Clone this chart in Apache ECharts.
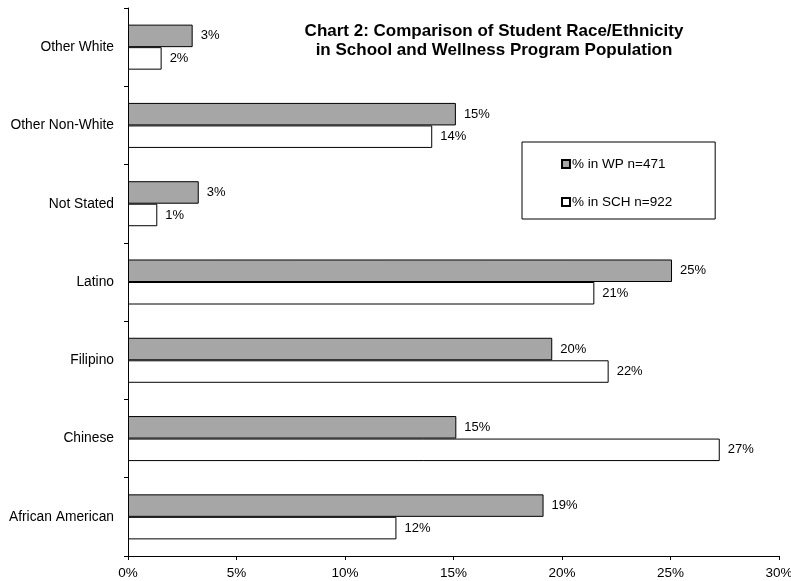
<!DOCTYPE html>
<html><head><meta charset="utf-8">
<script src="https://cdn.jsdelivr.net/npm/echarts@6/dist/echarts.min.js"></script>
<style>html,body{margin:0;padding:0;background:#fff}#c{width:791px;height:581px}</style>
</head><body><div id="c"></div>
<script>
const categories = ['African American','Chinese','Filipino','Latino','Not Stated','Other Non-White','Other White'];
const wpValues  = [19.15, 15.13, 19.55, 25.07, 3.26, 15.11, 2.98];
const schValues = [12.37, 27.27, 22.15, 21.49, 1.35, 14.02, 1.55];
const xTicks = [0,5,10,15,20,25,30];
const seriesNames = ['% in WP n=471', '% in SCH n=922'];

const font = '"Liberation Sans", Arial, sans-serif';
const fs = 13.8;
const chart = echarts.init(document.getElementById('c'), null, {renderer:'canvas'});
const lbl = {show:true, position:'right', distance:8, color:'#000', fontFamily:font, fontSize:13,
  formatter: p => Math.round(p.value) + '%'};
chart.setOption({
  animation:false,
  backgroundColor:'#fff',
  title:{
    text:'Chart 2: Comparison of Student Race/Ethnicity\nin School and Wellness Program Population',
    left:489, top:17, textAlign:'center',
    textStyle:{fontFamily:font, fontSize:17, fontWeight:'bold', color:'#000', lineHeight:19}
  },
  legend:{
    data:seriesNames, orient:'vertical', left:522, top:142,
    padding:[14,43,9,39], itemGap:22, itemWidth:8, itemHeight:8,
    borderColor:'#000', borderWidth:1, backgroundColor:'#fff',
    textStyle:{fontFamily:font, fontSize:13.5, color:'#000', padding:[0,0,0,-3], lineHeight:16},
    icon:'rect'
  },
  grid:{left:128, right:12, top:8, bottom:25, containLabel:false, outerBoundsMode:'none'},
  xAxis:{
    type:'value', min:0, max:30, interval:5,
    axisLine:{show:true, lineStyle:{color:'#000', width:1}},
    axisTick:{show:true, length:4, lineStyle:{color:'#000'}},
    axisLabel:{formatter: v => xTicks.includes(v) ? v + '%' : '', color:'#000', fontFamily:font, fontSize:13.5, margin:10},
    splitLine:{show:false}
  },
  yAxis:{
    type:'category', data:categories,
    axisLine:{show:true, lineStyle:{color:'#000', width:1}},
    axisTick:{show:true, length:4, inside:false, lineStyle:{color:'#000'}},
    axisLabel:{color:'#000', fontFamily:font, fontSize:fs, margin:14}
  },
  series:[
    {name:seriesNames[0], type:'bar', data:wpValues, barGap:'0%', barCategoryGap:'42.5%',
     itemStyle:{color:'#a6a6a6', borderColor:'#000', borderWidth:1}, label:lbl},
    {name:seriesNames[1], type:'bar', data:schValues, barGap:'0%', barCategoryGap:'42.5%',
     itemStyle:{color:'#fff', borderColor:'#000', borderWidth:1}, label:lbl}
  ]
});
</script></body></html>
